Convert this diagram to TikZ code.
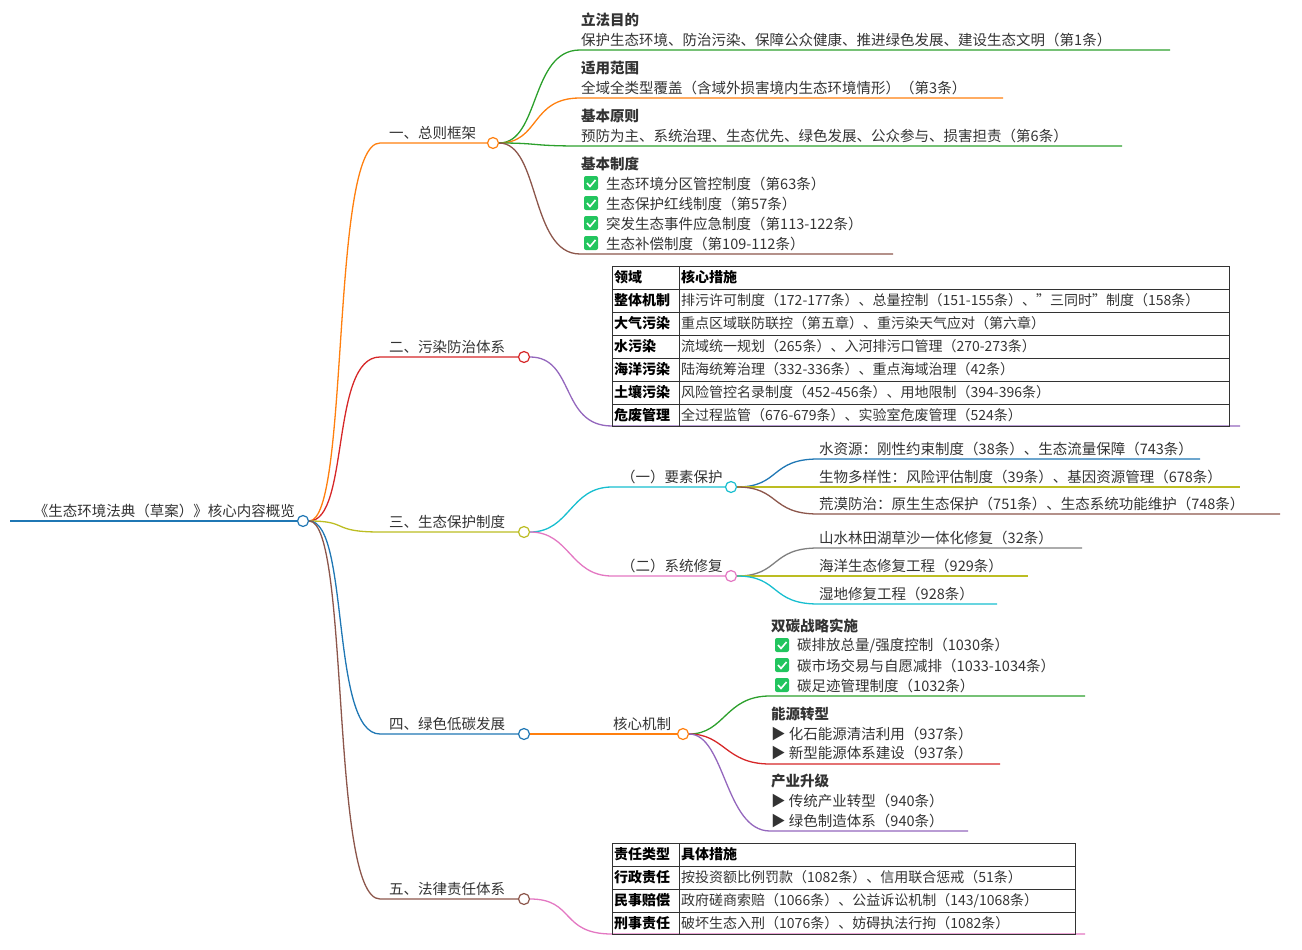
\documentclass[tikz,border=0pt]{standalone}
\usepackage{fontspec}
\setmainfont{Noto Sans CJK SC}
\definecolor{cblue}{HTML}{1F77B4}
\definecolor{corange}{HTML}{FF7F0E}
\definecolor{cgreen}{HTML}{2CA02C}
\definecolor{cred}{HTML}{D62728}
\definecolor{cpurple}{HTML}{9467BD}
\definecolor{cbrown}{HTML}{8C564B}
\definecolor{cpink}{HTML}{E377C2}
\definecolor{cgrey}{HTML}{7F7F7F}
\definecolor{colive}{HTML}{BCBD22}
\definecolor{ccyan}{HTML}{17BECF}
\definecolor{ink}{HTML}{333333}
\definecolor{tick}{HTML}{22C55E}
\begin{document}
\begin{tikzpicture}[
    x=1pt, y=-1pt,
    knot/.style={circle, draw=#1, fill=white, line width=1.2pt, minimum size=11pt, inner sep=0pt},
    link/.style={draw=#1, line width=1.3pt},
    lbl/.style={anchor=south west, inner sep=1pt, text=ink, font=\fontsize{14.5}{17}\selectfont},
    head/.style={lbl, font=\bfseries\fontsize{14.5}{17}\selectfont},
    cell/.style={anchor=west, inner sep=2pt, text=ink, font=\fontsize{14}{16}\selectfont},
    hcell/.style={cell, text=black, font=\bfseries\fontsize{14}{16}\selectfont},
    chk/.pic={\fill[tick, rounded corners=2pt] (-7,-7) rectangle (7,7);
              \draw[white, line width=1.6pt] (-4,0) -- (-1,3.5) -- (4.5,-3);}
]
\useasboundingbox (0,0) rectangle (1302,950);

% Root
\node (root) [knot=cblue] at (303,521) {};
\coordinate (r0) at (10,521);
\node (rootlbl) [lbl, anchor=south east] at (296,519) {《生态环境法典（草案）》核心内容概览};
\draw [link=cblue] (r0) -- (root);

% Level one
\node (k1) [knot=corange] at (493,143) {};
\node (k2) [knot=cred] at (524,357) {};
\node (k3) [knot=colive] at (524,532) {};
\node (k4) [knot=cblue] at (524,734) {};
\node (k5) [knot=cbrown] at (524,899) {};
\coordinate (a1) at (380,143);
\coordinate (a2) at (380,357);
\coordinate (a3) at (380,532);
\coordinate (a4) at (380,734);
\coordinate (a5) at (380,899);
\node [lbl] at (388,141) {一、总则框架};
\node [lbl] at (388,355) {二、污染防治体系};
\node [lbl] at (388,530) {三、生态保护制度};
\node [lbl] at (388,732) {四、绿色低碳发展};
\node [lbl] at (388,897) {五、法律责任体系};
\draw [link=corange] (root.east) .. controls (350,521) and (330,143) .. (a1) -- (k1);
\draw [link=cred] (root.east) .. controls (350,521) and (330,357) .. (a2) -- (k2);
\draw [link=colive] (root.east) .. controls (350,521) and (330,532) .. (a3) -- (k3);
\draw [link=cblue] (root.east) .. controls (350,521) and (330,734) .. (a4) -- (k4);
\draw [link=cbrown] (root.east) .. controls (350,521) and (330,899) .. (a5) -- (k5);

% 总则框架
\coordinate (b1) at (580,50);   \coordinate (e1) at (1170,50);
\coordinate (b2) at (580,98);   \coordinate (e2) at (1003,98);
\coordinate (b3) at (580,146);  \coordinate (e3) at (1122,146);
\coordinate (b4) at (580,254);  \coordinate (e4) at (893,254);
\draw [link=cgreen] (k1.east) .. controls (540,143) and (530,50) .. (b1) -- (e1);
\draw [link=corange] (k1.east) .. controls (540,143) and (530,98) .. (b2) -- (e2);
\draw [link=cgreen] (k1.east) .. controls (540,143) and (530,146) .. (b3) -- (e3);
\draw [link=cbrown] (k1.east) .. controls (540,143) and (530,254) .. (b4) -- (e4);
\node [head] at (580,28) {立法目的};
\node [lbl] at (580,48) {保护生态环境、防治污染、保障公众健康、推进绿色发展、建设生态文明（第1条）};
\node [head] at (580,76) {适用范围};
\node [lbl] at (580,96) {全域全类型覆盖（含域外损害境内生态环境情形）（第3条）};
\node [head] at (580,124) {基本原则};
\node [lbl] at (580,144) {预防为主、系统治理、生态优先、绿色发展、公众参与、损害担责（第6条）};
\node [head] at (580,172) {基本制度};
\foreach \yy in {183,203,223,243} \pic at (591,\yy) {chk};
\node [lbl] at (605,192) {生态环境分区管控制度（第63条）};
\node [lbl] at (605,212) {生态保护红线制度（第57条）};
\node [lbl] at (605,232) {突发生态事件应急制度（第113-122条）};
\node [lbl] at (605,252) {生态补偿制度（第109-112条）};

% 污染防治体系
\coordinate (t2) at (612,426); \coordinate (t2e) at (1240,426);
\draw [link=cpurple] (k2.east) .. controls (575,357) and (560,426) .. (t2) -- (t2e);
\draw [ink, line width=0.8pt] (612,266) rectangle (1229,426);
\foreach \yy in {289,312,335,358,381,404} \draw [ink, line width=0.6pt] (612,\yy) -- (1229,\yy);
\draw [ink, line width=0.6pt] (679,266) -- (679,426);
\node [hcell] at (612,277.5) {领域};
\node [hcell] at (679,277.5) {核心措施};
\node [hcell] at (612,300.5) {整体机制};
\node [cell] at (679,300.5) {排污许可制度（172-177条）、总量控制（151-155条）、"三同时"制度（158条）};
\node [hcell] at (612,323.5) {大气污染};
\node [cell] at (679,323.5) {重点区域联防联控（第五章）、重污染天气应对（第六章）};
\node [hcell] at (612,346.5) {水污染};
\node [cell] at (679,346.5) {流域统一规划（265条）、入河排污口管理（270-273条）};
\node [hcell] at (612,369.5) {海洋污染};
\node [cell] at (679,369.5) {陆海统筹治理（332-336条）、重点海域治理（42条）};
\node [hcell] at (612,392.5) {土壤污染};
\node [cell] at (679,392.5) {风险管控名录制度（452-456条）、用地限制（394-396条）};
\node [hcell] at (612,415) {危废管理};
\node [cell] at (679,415) {全过程监管（676-679条）、实验室危废管理（524条）};

% 生态保护制度
\node (k31) [knot=ccyan] at (731,487) {};
\node (k32) [knot=cpink] at (731,576) {};
\coordinate (c1) at (612,487);
\coordinate (c2) at (612,576);
\draw [link=ccyan] (k3.east) .. controls (570,532) and (570,487) .. (c1) -- (k31);
\draw [link=cpink] (k3.east) .. controls (570,532) and (570,576) .. (c2) -- (k32);
\node [lbl] at (620,485) {（一）要素保护};
\node [lbl] at (620,574) {（二）系统修复};
\coordinate (d1) at (818,459); \coordinate (f1) at (1200,459);
\coordinate (d2) at (818,487); \coordinate (f2) at (1240,487);
\coordinate (d3) at (818,514); \coordinate (f3) at (1280,514);
\draw [link=cblue] (k31.east) .. controls (780,487) and (770,459) .. (d1) -- (f1);
\draw [link=colive] (k31.east) -- (d2) -- (f2);
\draw [link=cbrown] (k31.east) .. controls (780,487) and (770,514) .. (d3) -- (f3);
\node [lbl] at (818,457) {水资源：刚性约束制度（38条）、生态流量保障（743条）};
\node [lbl] at (818,485) {生物多样性：风险评估制度（39条）、基因资源管理（678条）};
\node [lbl] at (818,512) {荒漠防治：原生生态保护（751条）、生态系统功能维护（748条）};
\coordinate (d4) at (818,548); \coordinate (f4) at (1082,548);
\coordinate (d5) at (818,576); \coordinate (f5) at (1028,576);
\coordinate (d6) at (818,604); \coordinate (f6) at (997,604);
\draw [link=cgrey] (k32.east) .. controls (780,576) and (770,548) .. (d4) -- (f4);
\draw [link=colive] (k32.east) -- (d5) -- (f5);
\draw [link=ccyan] (k32.east) .. controls (780,576) and (770,604) .. (d6) -- (f6);
\node [lbl] at (818,546) {山水林田湖草沙一体化修复（32条）};
\node [lbl] at (818,574) {海洋生态修复工程（929条）};
\node [lbl] at (818,602) {湿地修复工程（928条）};

% 绿色低碳发展
\node (k41) [knot=corange] at (683,734) {};
\draw [link=corange] (k4) -- (k41);
\node [lbl] at (612,732) {核心机制};
\coordinate (g1) at (770,696); \coordinate (h1) at (1085,696);
\coordinate (g2) at (770,764); \coordinate (h2) at (1000,764);
\coordinate (g3) at (770,831); \coordinate (h3) at (968,831);
\draw [link=cgreen] (k41.east) .. controls (725,734) and (725,696) .. (g1) -- (h1);
\draw [link=cred] (k41.east) .. controls (725,734) and (725,764) .. (g2) -- (h2);
\draw [link=cpurple] (k41.east) .. controls (725,734) and (725,831) .. (g3) -- (h3);
\node [head] at (770,634) {双碳战略实施};
\foreach \yy in {645,665,685} \pic at (782,\yy) {chk};
\node [lbl] at (796,654) {碳排放总量/强度控制（1030条）};
\node [lbl] at (796,674) {碳市场交易与自愿减排（1033-1034条）};
\node [lbl] at (796,694) {碳足迹管理制度（1032条）};
\node [head] at (770,722) {能源转型};
\node [lbl] at (770,742) {▶ 化石能源清洁利用（937条）};
\node [lbl] at (770,761) {▶ 新型能源体系建设（937条）};
\node [head] at (770,789) {产业升级};
\node [lbl] at (770,809) {▶ 传统产业转型（940条）};
\node [lbl] at (770,829) {▶ 绿色制造体系（940条）};

% 法律责任体系
\coordinate (t5) at (612,934); \coordinate (t5e) at (1085,934);
\draw [link=cpink] (k5.east) .. controls (575,899) and (560,934) .. (t5) -- (t5e);
\draw [ink, line width=0.8pt] (612,843) rectangle (1075,934);
\foreach \yy in {866,889,912} \draw [ink, line width=0.6pt] (612,\yy) -- (1075,\yy);
\draw [ink, line width=0.6pt] (679,843) -- (679,934);
\node [hcell] at (612,854.5) {责任类型};
\node [hcell] at (679,854.5) {具体措施};
\node [hcell] at (612,877.5) {行政责任};
\node [cell] at (679,877.5) {按投资额比例罚款（1082条）、信用联合惩戒（51条）};
\node [hcell] at (612,900.5) {民事赔偿};
\node [cell] at (679,900.5) {政府磋商索赔（1066条）、公益诉讼机制（143/1068条）};
\node [hcell] at (612,923) {刑事责任};
\node [cell] at (679,923) {破坏生态入刑（1076条）、妨碍执法行拘（1082条）};

\end{tikzpicture}
\end{document}
